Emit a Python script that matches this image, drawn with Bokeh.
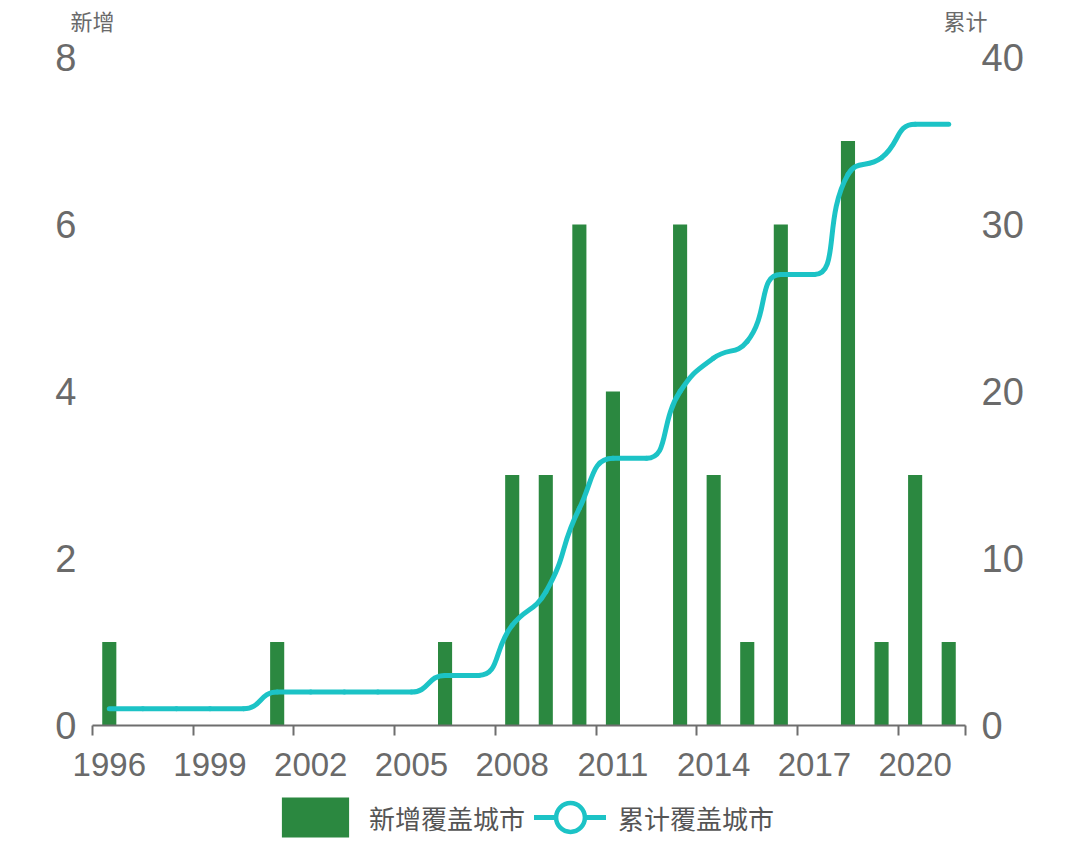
import math
from bokeh.plotting import figure
from bokeh.models import (Range1d, LinearAxis, FixedTicker, Legend, LegendItem,
                          Label, ColumnDataSource)
from bokeh.embed import file_html
from bokeh.resources import INLINE

# ---------------- data ----------------
years = list(range(1996, 2022))
new_cities = [1, 0, 0, 0, 0, 1, 0, 0, 0, 0, 1, 0, 3, 3, 6, 4, 0, 6, 3, 1, 6, 0, 7, 1, 3, 1]
cumulative = [1, 1, 1, 1, 1, 2, 2, 2, 2, 2, 3, 3, 6, 8, 13, 16, 16, 20, 22, 23, 27, 27, 33, 34, 36, 36]
label_years = years[::3]
left_ticks = [0, 2, 4, 6, 8]
right_ticks = [0, 10, 20, 30, 40]
bar_name = "新增覆盖城市"
line_name = "累计覆盖城市"
left_title = "新增"
right_title = "累计"

BAR_COLOR = "#2b8840"
LINE_COLOR = "#1cc3c6"
TEXT_COLOR = "#6a6a6a"
AXIS_COLOR = "#6e6e6e"
NUM_FONT = "Liberation Sans"
CJK_FONT = "Noto Sans CJK SC"

# ---------------- layout (pixels) ----------------
W, H = 1072, 847
AX_L, AX_R = 92, 965      # plot area left / right edge in pixels
AX_T, AX_B = 57, 725      # plot area top / bottom edge in pixels

x_start, x_end = years[0] - 0.5, years[-1] + 0.5
kx = (AX_R - AX_L) / (x_end - x_start)
ky_l = (AX_B - AX_T) / left_ticks[-1]
ky_r = (AX_B - AX_T) / right_ticks[-1]

xr = Range1d(x_start - AX_L / kx, x_end + (W - AX_R) / kx)
yr = Range1d(-(H - AX_B) / ky_l, left_ticks[-1] + AX_T / ky_l)
yr_right = Range1d(-(H - AX_B) / ky_r, right_ticks[-1] + AX_T / ky_r)

p = figure(width=W, height=H, output_backend="svg", toolbar_location=None,
           x_range=xr, y_range=yr,
           min_border=0, outline_line_color=None,
           x_axis_location=None, y_axis_location=None)
p.extra_y_ranges = {"right": yr_right}
p.xgrid.visible = False
p.ygrid.visible = False
p.background_fill_color = "white"
p.border_fill_color = "white"

# ---------------- axes ----------------
xaxis = LinearAxis(fixed_location=0, bounds=(x_start, x_end),
                   ticker=FixedTicker(ticks=label_years,
                                      minor_ticks=[y - 0.5 for y in label_years] + [x_end]))
xaxis.major_tick_line_color = None
xaxis.major_tick_out = 0
xaxis.major_tick_in = 0
xaxis.minor_tick_line_color = AXIS_COLOR
xaxis.minor_tick_line_width = 2
xaxis.minor_tick_out = 10
xaxis.minor_tick_in = 0
xaxis.axis_line_color = AXIS_COLOR
xaxis.axis_line_width = 2
xaxis.major_label_text_font = NUM_FONT
xaxis.major_label_text_font_size = "33px"
xaxis.major_label_text_color = TEXT_COLOR
xaxis.major_label_standoff = 17
p.add_layout(xaxis, "below")

yaxis_l = LinearAxis(fixed_location=x_start, ticker=FixedTicker(ticks=left_ticks))
yaxis_r = LinearAxis(fixed_location=x_end, ticker=FixedTicker(ticks=right_ticks),
                     y_range_name="right")
for ax in (yaxis_l, yaxis_r):
    ax.axis_line_color = None
    ax.major_tick_line_color = None
    ax.minor_tick_line_color = None
    ax.major_tick_out = 0
    ax.major_tick_in = 0
    ax.major_label_text_font = NUM_FONT
    ax.major_label_text_font_size = "38px"
    ax.major_label_text_color = TEXT_COLOR
    ax.major_label_standoff = 16
p.add_layout(yaxis_l, "left")
p.add_layout(yaxis_r, "right")

# axis titles above each axis
for xt, txt in ((x_start, left_title), (x_end, right_title)):
    p.add_layout(Label(x=xt, y=left_ticks[-1], text=txt, text_align="center",
                       text_baseline="bottom", y_offset=22,
                       text_font=CJK_FONT, text_font_size="22px",
                       text_color=TEXT_COLOR))

# ---------------- bars ----------------
bar_src = ColumnDataSource(data=dict(x=years, top=new_cities))
bars = p.vbar(x="x", top="top", width=0.42, source=bar_src,
              fill_color=BAR_COLOR, line_color=None)


# ---------------- smooth line (ECharts-like bezier smoothing) ----------------
def smooth_segments(xs, ys, sx, sy, smooth=0.5):
    P = [(x * sx, y * sy) for x, y in zip(xs, ys)]
    n = len(P)
    out = {k: [] for k in ("x0", "y0", "cx0", "cy0", "cx1", "cy1", "x1", "y1")}
    prevX, prevY = P[0]
    cpx0, cpy0 = P[0]
    for i in range(1, n):
        x, y = P[i]
        if i == n - 1:
            cpx1, cpy1 = x, y
            ncx, ncy = x, y
        else:
            nextX, nextY = P[i + 1]
            vecX, vecY = nextX - prevX, nextY - prevY
            lp = math.hypot(x - prevX, y - prevY)
            ln = math.hypot(nextX - x, nextY - y)
            r = ln / (ln + lp)
            ncx = x + vecX * smooth * r
            ncy = y + vecY * smooth * r
            ncx = max(min(ncx, max(nextX, x)), min(nextX, x))
            ncy = max(min(ncy, max(nextY, y)), min(nextY, y))
            vecX, vecY = ncx - x, ncy - y
            cpx1 = x - vecX * lp / ln
            cpy1 = y - vecY * lp / ln
            cpx1 = max(min(cpx1, max(prevX, x)), min(prevX, x))
            cpy1 = max(min(cpy1, max(prevY, y)), min(prevY, y))
            vecX, vecY = x - cpx1, y - cpy1
            ncx = x + vecX * ln / lp
            ncy = y + vecY * ln / lp
        out["x0"].append(prevX / sx); out["y0"].append(prevY / sy)
        out["cx0"].append(cpx0 / sx); out["cy0"].append(cpy0 / sy)
        out["cx1"].append(cpx1 / sx); out["cy1"].append(cpy1 / sy)
        out["x1"].append(x / sx); out["y1"].append(y / sy)
        cpx0, cpy0 = ncx, ncy
        prevX, prevY = x, y
    return out


line_src = ColumnDataSource(data=smooth_segments(years, cumulative, kx, ky_r))
curve = p.bezier(x0="x0", y0="y0", x1="x1", y1="y1", cx0="cx0", cy0="cy0",
                 cx1="cx1", cy1="cy1", source=line_src, y_range_name="right",
                 line_color=LINE_COLOR, line_width=5, line_cap="round")

# data-point symbols (hidden on the chart, as in the original; shown in the legend)
pt_src = ColumnDataSource(data=dict(x=years, y=cumulative))
marker = p.scatter(x="x", y="y", source=pt_src, marker="circle",
                   y_range_name="right", fill_color="white",
                   line_color=LINE_COLOR, line_width=4.5, size=10)
marker.visible = False

# ---------------- legends ----------------
common = dict(orientation="horizontal", padding=0, margin=0, spacing=0,
              border_line_color=None, background_fill_alpha=0,
              inactive_fill_alpha=0,
              label_text_font=CJK_FONT, label_text_font_size="26px",
              label_text_color="#555555")
leg1 = Legend(items=[LegendItem(label=bar_name, renderers=[bars])],
              location=(273, H - 842), glyph_width=84, glyph_height=50,
              label_standoff=12, **common)
leg2 = Legend(items=[LegendItem(label=line_name, renderers=[curve, marker])],
              location=(534, H - 853), glyph_width=72, glyph_height=72,
              label_standoff=12, **common)
p.add_layout(leg1, "center")
p.add_layout(leg2, "center")

open("out.html", "w").write(file_html(p, INLINE))
